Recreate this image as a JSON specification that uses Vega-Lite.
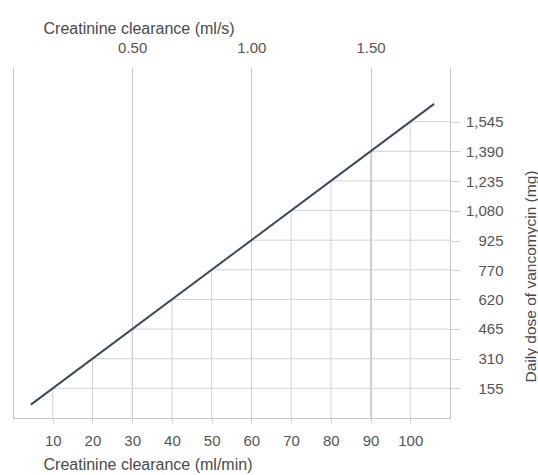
{
  "$schema": "https://vega.github.io/schema/vega-lite/v6.json",
  "width": 437,
  "height": 351,
  "autosize": "none",
  "padding": {"left": 13, "top": 67, "right": 88, "bottom": 57},
  "config": {
    "view": {"stroke": null},
    "font": "Liberation Sans",
    "axis": {"labelFont": "Liberation Sans", "titleFont": "Liberation Sans", "labelColor": "#555", "titleColor": "#4a4a4a", "titleFontWeight": "normal", "labelFontSize": 15, "titleFontSize": 16}
  },
  "datasets": {
    "line": [
      {"crcl": 4.5, "dose": 69.5},
      {"crcl": 106, "dose": 1637.7}
    ],
    "grid": [
      {"crcl": 10, "dose": 154.5},
      {"crcl": 20, "dose": 309},
      {"crcl": 30, "dose": 463.5},
      {"crcl": 40, "dose": 618},
      {"crcl": 50, "dose": 772.5},
      {"crcl": 60, "dose": 927},
      {"crcl": 70, "dose": 1081.5},
      {"crcl": 80, "dose": 1236},
      {"crcl": 90, "dose": 1390.5},
      {"crcl": 100, "dose": 1545}
    ]
  },
  "layer": [
    {
      "data": {"name": "grid"},
      "mark": {"type": "rule", "color": "#d3d3d3", "strokeWidth": 1},
      "encoding": {
        "x": {"field": "crcl", "type": "quantitative", "scale": {"domain": [0, 110], "nice": false, "zero": false},
          "axis": {"orient": "top", "values": [30, 60, 90], "labelExpr": "format(datum.value / 60, '.2f')", "grid": true, "gridColor": "#c8c8c8", "domain": false, "ticks": false, "labelPadding": 12, "title": "Creatinine clearance (ml/s)", "titleAlign": "left", "titleX": 30, "titlePadding": 4}},
        "y": {"field": "dose", "type": "quantitative", "scale": {"domain": [0, 1830], "nice": false},
          "axis": {"orient": "left", "labels": false, "ticks": false, "grid": false, "domain": true, "domainColor": "#c8c8c8", "title": null}},
        "y2": {"datum": 0}
      }
    },
    {
      "data": {"name": "grid"},
      "mark": {"type": "rule", "color": "#d3d3d3", "strokeWidth": 1},
      "encoding": {
        "x": {"field": "crcl", "type": "quantitative", "axis": null},
        "x2": {"datum": 110},
        "y": {"field": "dose", "type": "quantitative", "axis": null}
      }
    },
    {
      "data": {"name": "line"},
      "mark": {"type": "line", "color": "#3d4b5c", "strokeWidth": 2},
      "encoding": {
        "x": {"field": "crcl", "type": "quantitative",
          "axis": {"orient": "bottom", "values": [10, 20, 30, 40, 50, 60, 70, 80, 90, 100], "grid": false, "domain": true, "domainColor": "#c8c8c8", "ticks": true, "tickColor": "#d3d3d3", "tickSize": 5, "labelPadding": 10, "title": "Creatinine clearance (ml/min)", "titleAlign": "left", "titleX": 30, "titlePadding": 8}},
        "y": {"field": "dose", "type": "quantitative",
          "axis": {"orient": "right", "values": [155, 310, 465, 620, 770, 925, 1080, 1235, 1390, 1545], "labelExpr": "format(datum.value, ',.0f')", "grid": false, "domain": true, "domainColor": "#c8c8c8", "ticks": true, "tickColor": "#d3d3d3", "tickSize": 10, "labelAlign": "right", "labelPadding": 43, "title": "Daily dose of vancomycin (mg)", "titleAngle": -90, "titleX": 80, "titleY": 209, "titleBaseline": "middle", "titleAlign": "center", "titleFontSize": 15.5}}
      }
    }
  ],
  "resolve": {"axis": {"x": "independent", "y": "independent"}}
}
